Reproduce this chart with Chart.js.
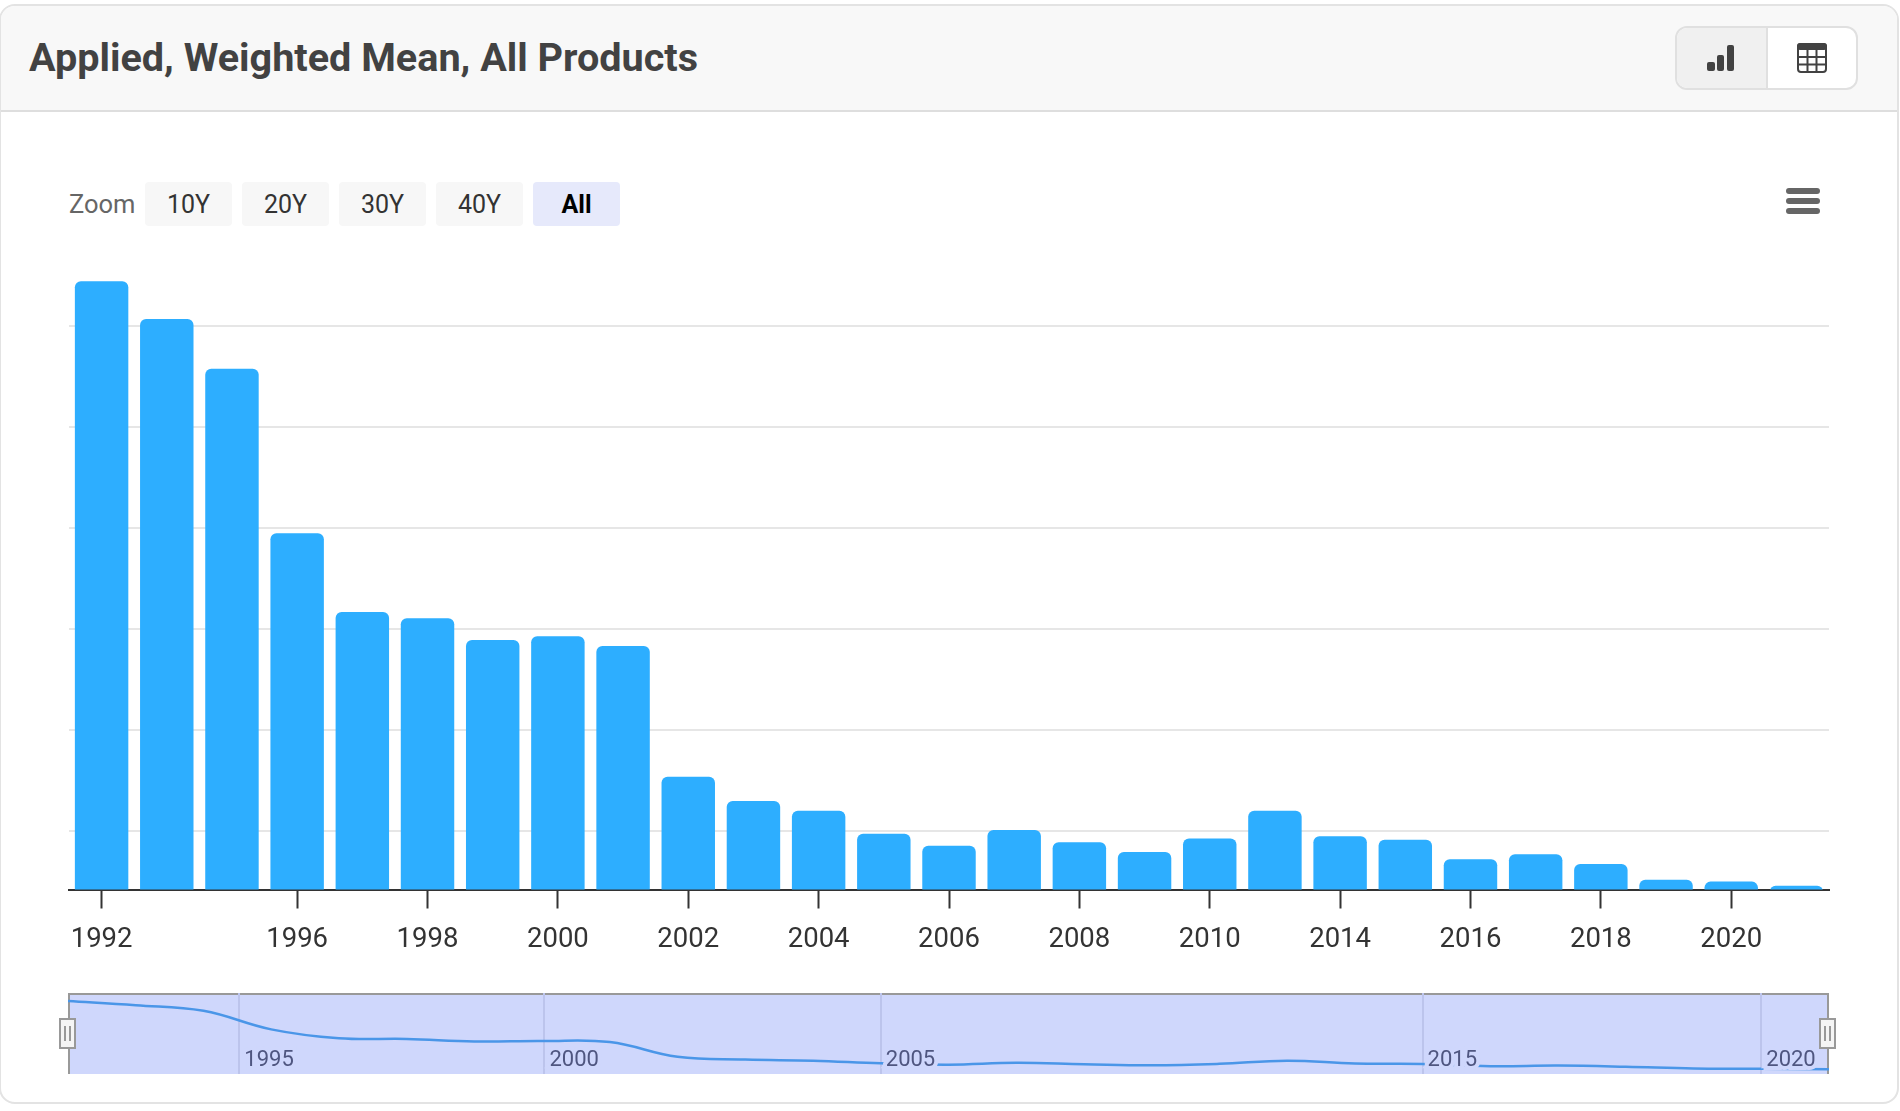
<!DOCTYPE html>
<html>
<head>
<meta charset="utf-8">
<title>Applied, Weighted Mean, All Products</title>
<script src="https://cdn.jsdelivr.net/npm/chart.js@4/dist/chart.umd.min.js"></script>
<style>
  html, body { margin: 0; padding: 0; background: #fff; width: 1900px; height: 1111px; overflow: hidden; font-family: Roboto, sans-serif; }
  .card { position: absolute; left: -1px; top: 4px; width: 1900px; height: 1100px; box-sizing: border-box; border: 2px solid #e3e3e3; border-radius: 16px; overflow: hidden; }
  .head { position: absolute; left: 0; top: 0; right: 0; height: 104px; background: #f8f8f8; border-bottom: 2px solid #dedede; }
  h1 { position: absolute; left: 29px; top: 35px; margin: 0; font-size: 39.6px; line-height: 46px; font-weight: 700; color: #424242; white-space: nowrap; }
  .toggle { position: absolute; left: 1675px; top: 26px; width: 183px; height: 64px; box-sizing: border-box; border: 2px solid #e0e0e0; border-radius: 12px; overflow: hidden; background: #fff; }
  .toggle .on { position: absolute; left: 0; top: 0; width: 89px; height: 100%; background: #f0f0f0; border-right: 2px solid #e0e0e0; }
  svg { position: absolute; display: block; }
  #main { position: absolute; left: 0; top: 0; }
  .zoomlabel { position: absolute; left: 69px; top: 188px; font-size: 25.5px; line-height: 32px; color: #666; }
  .rng { position: absolute; top: 182px; width: 87px; height: 44px; background: #f7f7f7; border-radius: 4px; font-size: 25px; line-height: 46px; text-align: center; color: #333; }
  .rng.sel { background: #e6e9fb; color: #000; font-weight: 700; }
  #navbox { position: absolute; left: 68px; top: 993px; width: 1761px; height: 81px; box-sizing: border-box; background: #cfd7fc; border: 2px solid #999; border-bottom: 0; }
  #nav { position: absolute; left: 68px; top: 993px; }
  .handle { position: absolute; top: 1018px; width: 17px; height: 31px; box-sizing: border-box; background: #f5f5f5; border: 2px solid #999; }
  .handle::before, .handle::after { content: ""; position: absolute; top: 6px; width: 2px; height: 15px; background: #999; }
  .handle::before { left: 3px; }
  .handle::after { left: 8px; }
</style>
</head>
<body>
<div class="card">
  <div class="head"></div>
</div>
<h1>Applied, Weighted Mean, All Products</h1>
<div class="toggle"><div class="on"></div></div>
<svg style="left:1700px;top:40px" width="40" height="36" fill="#424242">
  <rect x="7" y="22" width="8" height="9" rx="2"/>
  <rect x="17" y="15" width="7" height="16" rx="2"/>
  <rect x="27" y="5" width="7" height="26" rx="2"/>
</svg>
<svg style="left:1797px;top:43px" width="30" height="30">
  <rect x="1" y="1" width="28" height="28" rx="3" fill="#fff" stroke="#424242" stroke-width="2"/>
  <rect x="0" y="0" width="30" height="7" rx="3" fill="#424242"/>
  <path d="M10.5 7V29M19.5 7V29M1 14H29M1 21.5H29" stroke="#424242" stroke-width="2"/>
</svg>

<div class="zoomlabel">Zoom</div>
<div class="rng" style="left:145px">10Y</div>
<div class="rng" style="left:242px">20Y</div>
<div class="rng" style="left:339px">30Y</div>
<div class="rng" style="left:436px">40Y</div>
<div class="rng sel" style="left:533px">All</div>
<svg style="left:1786px;top:188px" width="34" height="26" fill="#666">
  <rect x="0" y="0" width="34" height="6" rx="3"/>
  <rect x="0" y="10" width="34" height="6" rx="3"/>
  <rect x="0" y="20" width="34" height="6" rx="3"/>
</svg>

<canvas id="main" width="1900" height="960"></canvas>
<div id="navbox"></div>
<canvas id="nav" width="1761" height="81"></canvas>
<div class="handle" style="left:59px"></div>
<div class="handle" style="left:1819px"></div>

<script>
// no bars for 1995 and 2011, the axis just steps over them
const years = ['1992', '1993', '1994', '1996', '1997', '1998', '1999', '2000', '2001', '2002', '2003', '2004', '2005', '2006',
  '2007', '2008', '2009', '2010', '2012', '2014', '2015', '2016', '2017', '2018', '2019', '2020', '2021'];
const tariffs = [32.19, 30.33, 27.87, 19.72, 15.82, 15.52, 14.44, 14.62, 14.14, 7.67, 6.47, 5.99, 4.85, 4.25,
  5.03, 4.43, 3.95, 4.61, 5.99, 4.73, 4.55, 3.59, 3.83, 3.35, 2.57, 2.48, 2.27];
const labelledYears = ['1992', '1996', '1998', '2000', '2002', '2004', '2006', '2008', '2010', '2014', '2016', '2018', '2020'];
const gridValues = [5, 10, 15, 20, 25, 30];
const navTicks = [2.53, 7.035, 12, 20, 25];
const navLabels = ['1995', '2000', '2005', '2015', '2020'];

new Chart(document.getElementById('main'), {
  type: 'bar',
  data: {
    labels: years,
    datasets: [{
      data: tariffs,
      backgroundColor: '#2daeff',
      borderRadius: { topLeft: 6, topRight: 6 },
      borderSkipped: 'bottom',
      barPercentage: 0.82,
      categoryPercentage: 1,
    }]
  },
  options: {
    responsive: false,
    animation: false,
    layout: { padding: { left: 69, right: 71, top: 265, bottom: 0 } },
    plugins: { legend: { display: false }, tooltip: { enabled: false } },
    scales: {
      x: {
        afterFit: (scale) => { scale.height = 70.5; },
        afterBuildTicks: (scale) => {
          scale.ticks = scale.ticks.filter(t => labelledYears.includes(years[t.value]));
        },
        grid: { offset: false, drawOnChartArea: false, drawTicks: true, tickLength: 19, tickColor: '#333', tickWidth: 2 },
        border: { color: '#333', width: 2 },
        ticks: {
          autoSkip: false,
          maxRotation: 0,
          padding: 15,
          color: '#333',
          font: { family: 'Roboto', size: 27.5 },
        },
      },
      y: {
        min: 2.09,
        max: 33,
        afterFit: (scale) => { scale.width = 0; },
        afterBuildTicks: (scale) => { scale.ticks = gridValues.map(v => ({ value: v })); },
        grid: { color: '#e6e6e6', lineWidth: 2, drawTicks: false },
        border: { display: false },
        ticks: { display: false },
      },
    },
  },
});

// overview strip under the bars, same values on a plain index axis
new Chart(document.getElementById('nav'), {
  type: 'line',
  data: {
    datasets: [{
      data: tariffs.map((v, i) => ({ x: i, y: v })),
      borderColor: '#4a96e8',
      borderWidth: 2.5,
      pointRadius: 0,
      tension: 0.4,
    }]
  },
  options: {
    responsive: false,
    animation: false,
    layout: { padding: 0 },
    plugins: { legend: { display: false }, tooltip: { enabled: false } },
    scales: {
      x: {
        type: 'linear',
        min: 0,
        max: 26,
        afterFit: (scale) => {
          scale.height = 0;
          // the last year label must not pull the strip in from the right
          scale.paddingLeft = 0;
          scale.paddingRight = 0;
        },
        afterBuildTicks: (scale) => { scale.ticks = navTicks.map(v => ({ value: v })); },
        grid: { color: '#bcc4ec', lineWidth: 2, drawTicks: false },
        border: { display: false },
        ticks: {
          autoSkip: false,
          maxRotation: 0,
          align: 'start',
          labelOffset: 5,
          // mirrored so the years sit inside the strip
          mirror: true,
          padding: 0,
          z: 1,
          color: '#4f5680',
          textStrokeColor: '#cfd7fc',
          textStrokeWidth: 8,
          font: { family: 'Roboto', size: 22 },
          callback: (v) => navLabels[navTicks.indexOf(v)],
        },
      },
      y: {
        display: false,
        min: 0.15,
        max: 35.67,
      },
    },
  },
});
</script>
</body>
</html>
